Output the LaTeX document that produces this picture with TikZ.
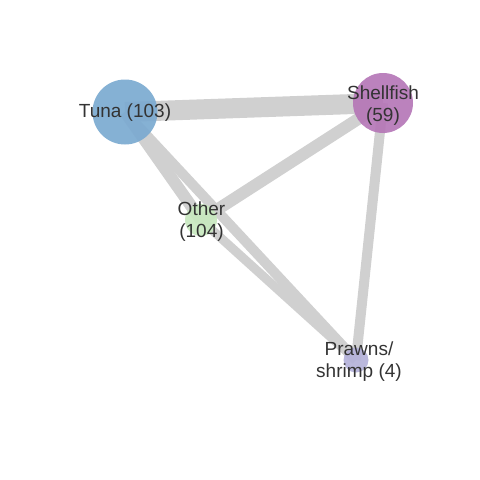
\documentclass[tikz,border=0pt]{standalone}
\usepackage{fontspec}
\setmainfont{Liberation Sans}
\usetikzlibrary{backgrounds}
\definecolor{tunablue}{HTML}{7BAAD0}
\definecolor{shellpurple}{HTML}{B577B7}
\definecolor{othergreen}{HTML}{C8E8BF}
\definecolor{prawnlilac}{HTML}{B4B2DA}
\definecolor{edgegray}{HTML}{D0D0D0}
\definecolor{labelgray}{HTML}{333333}
\tikzset{
  fish/.style={circle, inner sep=0pt, fill opacity=0.92},
  fishlabel/.style={text=labelgray, align=center, inner sep=0pt,
    font=\fontsize{19}{22.5}\selectfont},
  link/.style={draw=edgegray}
}
\begin{document}
\begin{tikzpicture}[x=1pt, y=-1pt]
        \useasboundingbox (0,0) rectangle (480,480);
        \node [fish, fill=tunablue, minimum size=65pt] (tuna) at (125,112) {};
        \node [fish, fill=shellpurple, minimum size=60pt] (shellfish) at (383,103) {};
        \node [fish, fill=othergreen, minimum size=32pt] (other) at (201,220) {};
        \node [fish, fill=prawnlilac, minimum size=25pt] (prawns) at (356,360) {};
        \begin{scope}[on background layer]
          \draw [link, line width=20pt] (tuna.center) -- (shellfish.center); % top
          \draw [link, line width=12pt] (tuna.center) -- (other.center);
          \draw [link, line width=10pt] (tuna.center) -- (prawns.center);
          \draw [link, line width=12pt] (other.center) -- (shellfish.center);
          \draw [link, line width=9pt] (other.center) -- (prawns.center);
          \draw [link, line width=10pt] (shellfish.center) -- (prawns.center); % right
        \end{scope}
        \node [fishlabel] (tunatext) at (125,112.5) {Tuna (103)};
        \node [fishlabel] (shellfishtext) at (383,105.5) {Shellfish\\(59)};
        \node [fishlabel] (othertext) at (201.5,221.5) {Other\\(104)};
        \node [fishlabel] (prawnstext) at (359,361.5) {Prawns/\\shrimp (4)};
      \end{tikzpicture}
\end{document}
